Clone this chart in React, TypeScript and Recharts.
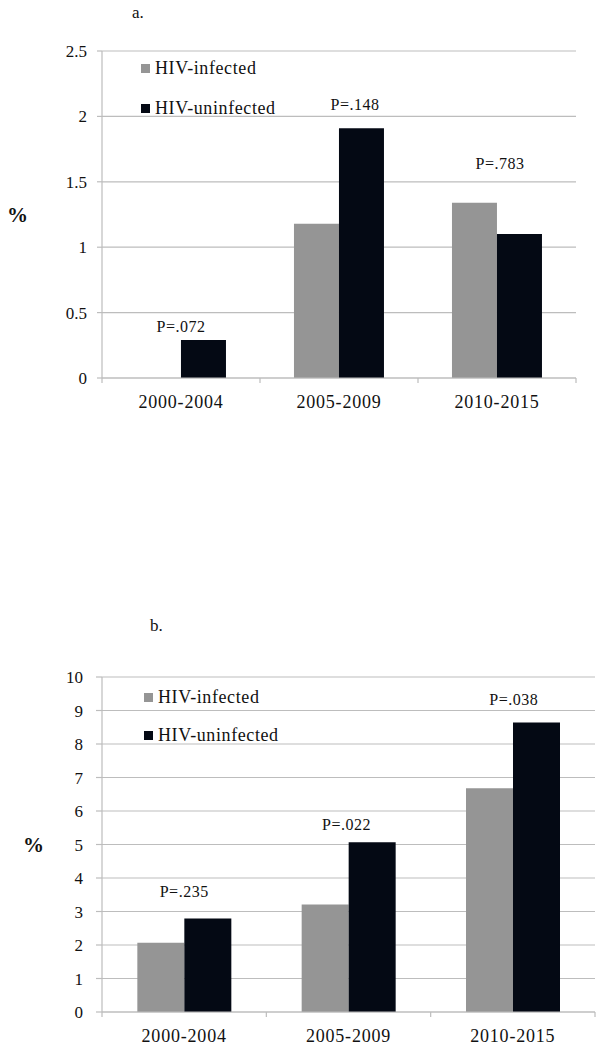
import React from 'react';
import { BarChart, Bar, XAxis, YAxis, CartesianGrid, ReferenceDot, Legend } from 'recharts';

// ---- data ----
const categories = ['2000-2004', '2005-2009', '2010-2015'];
const seriesNames = ['HIV-infected', 'HIV-uninfected'];

const aInfected = [0, 1.18, 1.34];
const aUninfected = [0.29, 1.91, 1.1];
const aPLabels = ['P=.072', 'P=.148', 'P=.783'];
const aPLabelY = [0.39, 2.09, 1.64];
const aTicks = [0, 0.5, 1, 1.5, 2, 2.5];

const bInfected = [2.07, 3.21, 6.68];
const bUninfected = [2.79, 5.07, 8.64];
const bPLabels = ['P=.235', 'P=.022', 'P=.038'];
const bPLabelY = [3.6, 5.61, 9.32];
const bTicks = [0, 1, 2, 3, 4, 5, 6, 7, 8, 9, 10];

// ---- style ----
const FONT = "'Liberation Serif', 'Times New Roman', Times, serif";
const GRID = '#bdbdbd';
const GRAY = '#959595';
const DARK = '#040914';

const CategoryTick = (props: any) => {
  const { x, y, payload, index, visibleTicksCount, width } = props;
  const half = width && visibleTicksCount ? width / visibleTicksCount / 2 : 0;
  return (
    <g>
      <line x1={x - half} x2={x - half} y1={y} y2={y + 5} stroke={GRID} strokeWidth={1.2} />
      {index === visibleTicksCount - 1 && (
        <line x1={x + half} x2={x + half} y1={y} y2={y + 5} stroke={GRID} strokeWidth={1.2} />
      )}
      <text
        x={x}
        y={y + 24}
        textAnchor="middle"
        dominantBaseline="central"
        fill="#111"
        style={{ fontFamily: FONT, fontSize: 18, letterSpacing: 0.8 }}
      >
        {payload.value}
      </text>
    </g>
  );
};

const PLabel = (props: any) => {
  const { viewBox, text, dx } = props;
  if (!viewBox) return null;
  const cx = viewBox.x + (viewBox.width || 0) / 2 + (dx || 0);
  const cy = viewBox.y + (viewBox.height || 0) / 2;
  return (
    <text
      x={cx}
      y={cy}
      textAnchor="middle"
      dominantBaseline="central"
      fill="#111"
      style={{ fontFamily: FONT, fontSize: 16, letterSpacing: 0.5 }}
    >
      {text}
    </text>
  );
};

const PercentLabel = (props: any) => {
  const { viewBox, left } = props;
  if (!viewBox) return null;
  return (
    <text
      x={viewBox.x + left}
      y={viewBox.y + viewBox.height / 2}
      textAnchor="start"
      dominantBaseline="central"
      fill="#111"
      style={{ fontFamily: FONT, fontSize: 21, fontWeight: 'bold' }}
    >
      %
    </text>
  );
};

const LegendContent = (props: any) => {
  const { payload, rowHeight } = props;
  return (
    <div>
      {(payload || []).map((item: any) => (
        <div
          key={item.value}
          style={{
            height: rowHeight,
            display: 'flex',
            alignItems: 'center',
            fontFamily: FONT,
            fontSize: 18,
            letterSpacing: 0.6,
            color: '#111',
            whiteSpace: 'nowrap',
          }}
        >
          <span
            style={{
              display: 'inline-block',
              width: 9,
              height: 9,
              background: item.color,
              marginRight: 5,
            }}
          />
          <span>{item.value}</span>
        </div>
      ))}
    </div>
  );
};

type PanelProps = {
  infected: number[];
  uninfected: number[];
  pLabels: string[];
  pLabelY: number[];
  pDx: number[];
  ticks: number[];
  height: number;
  margin: { top: number; right: number; left: number; bottom: number };
  yAxisWidth: number;
  xAxisHeight: number;
  yTickSize: number;
  yTickMargin: number;
  percentOffset: number;
  legendTop: number;
  legendLeft: number;
  legendRow: number;
};

const Panel = (p: PanelProps) => {
  const data = categories.map((c, i) => ({
    category: c,
    infected: p.infected[i],
    uninfected: p.uninfected[i],
  }));
  const max = p.ticks[p.ticks.length - 1];
  return (
    <BarChart
      width={608}
      height={p.height}
      data={data}
      margin={p.margin}
      barCategoryGap="21.5%"
      barGap={0}
      style={{ fontFamily: FONT }}
    >
      <CartesianGrid vertical={false} stroke={GRID} strokeWidth={1.2} />
      <XAxis
        dataKey="category"
        height={p.xAxisHeight}
        axisLine={{ stroke: GRID, strokeWidth: 1.2 }}
        tickLine={false}
        tickSize={0}
        tickMargin={0}
        interval={0}
        tick={<CategoryTick />}
      />
      <YAxis
        width={p.yAxisWidth}
        domain={[0, max]}
        ticks={p.ticks}
        interval={0}
        axisLine={{ stroke: GRID, strokeWidth: 1.2 }}
        tickLine={{ stroke: GRID, strokeWidth: 1.2 }}
        tickSize={p.yTickSize}
        tickMargin={p.yTickMargin}
        tick={{ fill: '#111', fontSize: 17, fontFamily: FONT, style: { fontFamily: FONT } }}
        label={<PercentLabel left={p.percentOffset} />}
      />
      <Legend
        layout="horizontal"
        verticalAlign="middle"
        align="center"
        wrapperStyle={{ top: p.legendTop, left: p.legendLeft, width: 'auto', height: 'auto' }}
        content={<LegendContent rowHeight={p.legendRow} />}
      />
      <Bar dataKey="infected" name={seriesNames[0]} fill={GRAY} isAnimationActive={false} />
      <Bar dataKey="uninfected" name={seriesNames[1]} fill={DARK} isAnimationActive={false} />
      {categories.map((c, i) => (
        <ReferenceDot
          key={c}
          x={c}
          y={p.pLabelY[i]}
          r={0}
          fill="none"
          stroke="none"
          label={<PLabel text={p.pLabels[i]} dx={p.pDx[i]} />}
        />
      ))}
    </BarChart>
  );
};

export default function App() {
  return (
    <div
      style={{
        position: 'absolute',
        left: 0,
        top: 0,
        width: 608,
        height: 1050,
        background: '#fff',
        overflow: 'hidden',
        fontFamily: FONT,
      }}
    >
      <div
        style={{
          position: 'absolute',
          left: 132,
          top: 3,
          fontFamily: FONT,
          fontSize: 17,
          lineHeight: '20px',
          color: '#111',
        }}
      >
        a.
      </div>
      <div style={{ position: 'absolute', left: 0, top: 0 }}>
        <Panel
          infected={aInfected}
          uninfected={aUninfected}
          pLabels={aPLabels}
          pLabelY={aPLabelY}
          pDx={[0, 16, 3]}
          ticks={aTicks}
          height={430}
          margin={{ top: 51, right: 32, left: 0, bottom: 0 }}
          yAxisWidth={102}
          xAxisHeight={52}
          yTickSize={5}
          yTickMargin={10}
          percentOffset={7}
          legendTop={49}
          legendLeft={141}
          legendRow={39.5}
        />
      </div>
      <div
        style={{
          position: 'absolute',
          left: 150,
          top: 616,
          fontFamily: FONT,
          fontSize: 17,
          lineHeight: '20px',
          color: '#111',
        }}
      >
        b.
      </div>
      <div style={{ position: 'absolute', left: 0, top: 600 }}>
        <Panel
          infected={bInfected}
          uninfected={bUninfected}
          pLabels={bPLabels}
          pLabelY={bPLabelY}
          pDx={[0, -2, 1]}
          ticks={bTicks}
          height={450}
          margin={{ top: 77, right: 13, left: 0, bottom: 0 }}
          yAxisWidth={102}
          xAxisHeight={38}
          yTickSize={6}
          yTickMargin={13}
          percentOffset={23}
          legendTop={78}
          legendLeft={144}
          legendRow={38}
        />
      </div>
    </div>
  );
}
